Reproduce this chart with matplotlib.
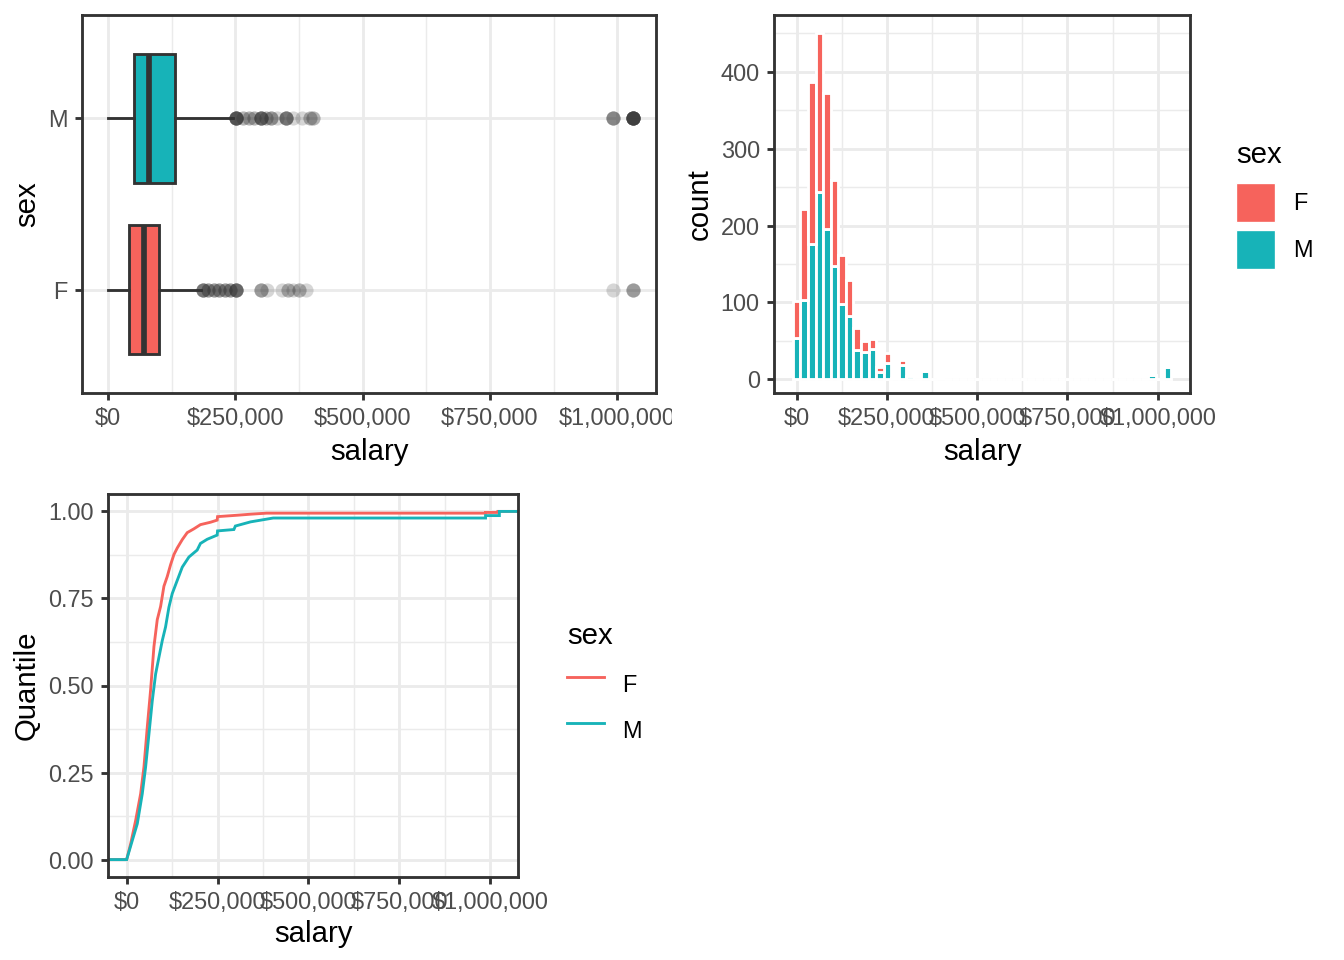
import numpy as np
import matplotlib
matplotlib.use("Agg")
import matplotlib.pyplot as plt
from matplotlib.patches import Patch
from matplotlib.lines import Line2D
from matplotlib.ticker import FuncFormatter, FixedLocator
from matplotlib.transforms import Bbox, TransformedBbox

plt.rcParams['font.family'] = ['Liberation Sans', 'DejaVu Sans']

# %% data
sexes = ["F", "M"]
colors = {"F": "#F6635C", "M": "#17B3B8"}

# boxplot summary (salary in $)
box_q1 = [42000, 51000]
box_med = [70000, 79600]
box_q3 = [100000, 131600]
box_lo = [0, 0]
box_hi = [183000, 246000]

F_out_vals = [185600, 196400, 207400, 218200, 229200, 240200, 251000, 300000, 313000,
              342000, 353000, 364000, 375000, 389000, 992000, 1031000]
F_out_counts = [5, 3, 3, 3, 3, 3, 6, 3, 1, 1, 2, 1, 2, 1, 1, 3]
M_out_vals = [251000, 265700, 276500, 287500, 300000, 309300, 320300, 331300, 350000,
              364000, 380800, 396900, 402600, 992000, 1031000]
M_out_counts = [8, 2, 2, 2, 6, 2, 3, 1, 5, 1, 1, 2, 2, 4, 12]

# histogram, 50 bins
bin_width = 20950
hist_M = [53, 103, 176, 243, 196, 147, 98, 82, 38, 36, 39, 9, 21, 1, 19, 4, 0, 10, 0, 2] \
    + [0] * 27 + [6, 0, 16]
hist_F = [49, 119, 211, 207, 177, 112, 64, 47, 28, 14, 13, 7, 13, 0, 6, 0, 0, 0, 0, 0] \
    + [0] * 27 + [0, 0, 2]

# ecdf
ecdf_F_x = [0, 11000, 24700, 38500, 47600, 56800, 65900, 75100, 84200, 93400, 102500,
            111700, 120900, 130000, 139200, 153000, 166600, 185000, 203000, 231000, 249000,
            250000, 304000, 341000, 385000, 987000, 987000, 1021000, 1021000]
ecdf_F_q = [0, 0.045, 0.112, 0.189, 0.266, 0.381, 0.487, 0.612, 0.689, 0.727, 0.785,
            0.813, 0.847, 0.876, 0.895, 0.919, 0.939, 0.950, 0.962, 0.969, 0.975,
            0.985, 0.989, 0.992, 0.995, 0.995, 0.997, 0.997, 1.0]
ecdf_M_x = [0, 15600, 29300, 43000, 52200, 61300, 70500, 79700, 88800, 98000, 107000,
            116300, 125400, 139200, 153000, 171300, 194000, 203000, 221600, 249000, 250000,
            295000, 299000, 341000, 403000, 987000, 987000, 1025000, 1025000]
ecdf_M_q = [0, 0.055, 0.103, 0.189, 0.266, 0.36, 0.456, 0.533, 0.581, 0.629, 0.668,
            0.725, 0.764, 0.802, 0.84, 0.869, 0.889, 0.908, 0.920, 0.932, 0.944,
            0.948, 0.958, 0.970, 0.981, 0.981, 0.988, 0.988, 1.0]

salary_ticks = [0, 250000, 500000, 750000, 1000000]
salary_minor = [125000, 375000, 625000, 875000]

# %% styling helpers
dark = "#333333"
grid_c = "#EBEBEB"
lw = 1.07
money = FuncFormatter(lambda v, p: "${:,.0f}".format(v))


def style(ax):
    for s in ax.spines.values():
        s.set_color(dark)
        s.set_linewidth(lw)
    ax.set_axisbelow(True)
    ax.grid(True, which="major", color=grid_c, linewidth=lw)
    ax.grid(True, which="minor", color=grid_c, linewidth=lw / 2)
    ax.tick_params(which="major", length=2.75, width=lw, color=dark, labelsize=8.8,
                   labelcolor="#4D4D4D", pad=2.6)
    ax.tick_params(which="minor", length=0)


fig = plt.figure(figsize=(7, 5), dpi=192)
W, H = 1344, 960


def box_at(x0, y0, x1, y1):
    return [x0 / W, 1 - y1 / H, (x1 - x0) / W, (y1 - y0) / H]


# %% boxplot
ax1 = fig.add_axes(box_at(82, 15, 656, 393))
stats = []
for i, s in enumerate(sexes):
    vals = F_out_vals if s == "F" else M_out_vals
    cnts = F_out_counts if s == "F" else M_out_counts
    stats.append(dict(q1=box_q1[i], med=box_med[i], q3=box_q3[i], whislo=box_lo[i],
                      whishi=box_hi[i], fliers=np.repeat(vals, cnts), label=s))
bp = ax1.bxp(stats, positions=[1, 2], widths=0.75, orientation="horizontal",
             patch_artist=True, showcaps=False,
             boxprops=dict(edgecolor=dark, linewidth=lw),
             whiskerprops=dict(color=dark, linewidth=lw),
             medianprops=dict(color=dark, linewidth=2 * lw),
             flierprops=dict(marker="o", markerfacecolor=dark, markeredgecolor="none",
                             alpha=0.2, markersize=5.3))
for patch, s in zip(bp["boxes"], sexes):
    patch.set_facecolor(colors[s])
ax1.set_ylim(0.4, 2.6)
ax1.set_xlim(-51250, 1076250)
ax1.set_yticks([1, 2])
ax1.set_yticklabels(sexes)
ax1.xaxis.set_major_locator(FixedLocator(salary_ticks))
ax1.xaxis.set_minor_locator(FixedLocator(salary_minor))
ax1.xaxis.set_major_formatter(money)
style(ax1)
ax1.grid(False, axis="y", which="minor")
ax1.set_xlabel("salary", fontsize=11, labelpad=2.75)
ax1.set_ylabel("sex", fontsize=11, labelpad=2.75)
# the last label is cut at the panel's edge in the original
clip = TransformedBbox(Bbox([[0, 0], [0.5, 1]]), fig.transFigure)
for lab in ax1.get_xticklabels():
    lab.set_clip_box(clip)
    lab.set_clip_on(True)

# %% histogram
ax2 = fig.add_axes(box_at(774, 15, 1190, 393))
centers = np.arange(len(hist_M)) * bin_width
ax2.bar(centers, hist_M, width=bin_width, color=colors["M"], edgecolor="white", linewidth=lw)
ax2.bar(centers, hist_F, width=bin_width, bottom=hist_M, color=colors["F"],
        edgecolor="white", linewidth=lw)
ax2.margins(x=0.05, y=0.05)
ax2.set_ylim(-18, 474)
ax2.xaxis.set_major_locator(FixedLocator(salary_ticks))
ax2.xaxis.set_minor_locator(FixedLocator(salary_minor))
ax2.xaxis.set_major_formatter(money)
ax2.yaxis.set_major_locator(FixedLocator([0, 100, 200, 300, 400]))
ax2.yaxis.set_minor_locator(FixedLocator([50, 150, 250, 350, 450]))
style(ax2)
ax2.set_xlabel("salary", fontsize=11, labelpad=2.75)
ax2.set_ylabel("count", fontsize=11, labelpad=2.75)

leg1 = fig.legend(handles=[Patch(facecolor=colors[s], edgecolor="white", linewidth=0.5)
                           for s in sexes],
                  labels=sexes, title="sex", loc="upper left",
                  bbox_to_anchor=(1236 / W, 1 - 141 / H), frameon=False, fontsize=8.8,
                  title_fontsize=11, handlelength=1.66, handleheight=2.18, labelspacing=0.34,
                  handletextpad=0.77, borderpad=0, borderaxespad=0, alignment="left")
leg1._legend_box.sep = 5.3

# %% ecdf
ax3 = fig.add_axes(box_at(108, 494, 518, 877))
ax3.set_xlim(-51250, 1076250)
ax3.set_ylim(-0.05, 1.05)
xl = ax3.get_xlim()
for s, xs, qs in [("F", ecdf_F_x, ecdf_F_q), ("M", ecdf_M_x, ecdf_M_q)]:
    xs = [xl[0]] + xs + [xl[1]]
    qs = [0] + qs + [1]
    ax3.plot(xs, qs, color=colors[s], linewidth=lw, solid_joinstyle="miter")
ax3.xaxis.set_major_locator(FixedLocator(salary_ticks))
ax3.xaxis.set_minor_locator(FixedLocator(salary_minor))
ax3.xaxis.set_major_formatter(money)
ax3.yaxis.set_major_locator(FixedLocator([0, 0.25, 0.5, 0.75, 1.0]))
ax3.yaxis.set_minor_locator(FixedLocator([0.125, 0.375, 0.625, 0.875]))
ax3.yaxis.set_major_formatter(FuncFormatter(lambda v, p: "{:.2f}".format(v)))
style(ax3)
ax3.set_xlabel("salary", fontsize=11, labelpad=2.0)
ax3.set_ylabel("Quantile", fontsize=11, labelpad=2.75)

leg2 = fig.legend(handles=[Line2D([], [], color=colors[s], linewidth=lw) for s in sexes],
                  labels=sexes, title="sex", loc="upper left",
                  bbox_to_anchor=(567 / W, 1 - 622 / H), frameon=False, fontsize=8.8,
                  title_fontsize=11, handlelength=1.58, handleheight=2.64, labelspacing=0,
                  handletextpad=0.77, borderpad=0, borderaxespad=0, alignment="left")
leg2._legend_box.sep = 4.5

fig.savefig("out.png", dpi=192)
